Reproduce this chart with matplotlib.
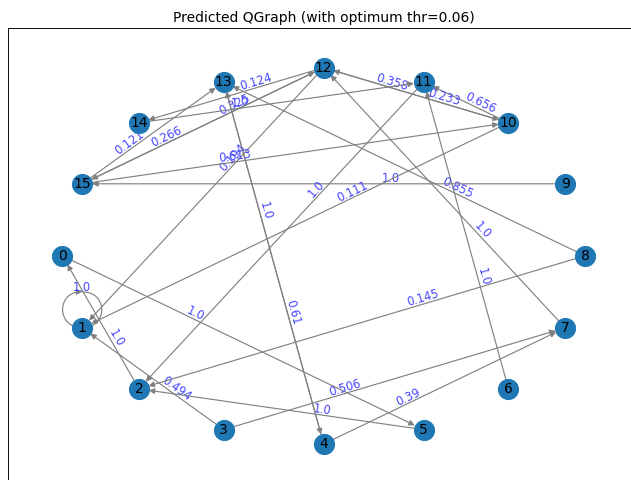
import numpy as np
import matplotlib
matplotlib.use("Agg")
import matplotlib.pyplot as plt
from matplotlib.patches import FancyArrowPatch
from matplotlib.path import Path

# Graph data
nodes = list(range(16))
edge_src = [0, 1, 2, 3, 3, 4, 4, 5, 6, 7, 8, 8, 9, 10, 10, 10, 11, 12, 12, 12, 12, 13, 14, 15, 15, 15]
edge_dst = [5, 1, 0, 1, 7, 7, 13, 2, 11, 12, 2, 13, 15, 1, 11, 12, 2, 1, 10, 14, 15, 4, 11, 10, 12, 13]
edge_lbl = ["1.0", "1.0", "1.0", "0.494", "0.506", "0.39", "0.61", "1.0", "1.0", "1.0",
            "0.145", "0.855", "1.0", "0.111", "0.656", "0.233", "1.0", "0.194", "0.358",
            "0.124", "0.325", "1.0", "1.0", "0.613", "0.266", "0.121"]
title = "Predicted QGraph (with optimum thr=0.06)"

NODE_COLOR = "#1f78b4"
EDGE_COLOR = "gray"
LABEL_COLOR = (0.27, 0.27, 1.0)
NODE_SIZE = 300
LABEL_T = 0.36      # label position measured from the tail of each edge
LABEL_LIFT = 6.0    # pixels, perpendicular lift of the edge labels

# circular layout, starting on the left and running counter-clockwise downward
n = len(nodes)
pos = {}
for k, v in enumerate(nodes):
    a = 2 * np.pi * (k - n // 2) / n
    pos[v] = np.array([np.cos(a), np.sin(a)])

DPI = 83.0
W, H = 631, 480
fig = plt.figure(figsize=((W + 0.4) / DPI, (H + 0.4) / DPI), dpi=DPI)
ax_left, ax_top, ax_w, ax_h = 7.5, 28.5, 632.0, 455.0
ax = fig.add_axes([ax_left / W, 1 - (ax_top + ax_h) / H, ax_w / W, ax_h / H])
lim = 1.21
ax.set_xlim(-lim, lim)
ax.set_ylim(-lim, lim)
ax.tick_params(axis="both", which="both", bottom=False, left=False,
               labelbottom=False, labelleft=False)

sx = ax_w / (2 * lim)   # pixels per data unit
sy = ax_h / (2 * lim)

shrink = np.sqrt(NODE_SIZE) / 2

for s, d, lbl in zip(edge_src, edge_dst, edge_lbl):
    p0 = pos[s]
    if s == d:
        # self loop drawn above the node
        h, vv = 26.0 / sx, 36.0 / sy
        x0, y0 = p0
        verts = [(x0, y0 + vv), (x0 + h, y0 + vv), (x0 + h, y0), (x0, y0),
                 (x0 - h, y0), (x0 - h, y0 + vv), (x0, y0 + vv)]
        codes = [Path.MOVETO] + [Path.CURVE4] * 6
        loop = FancyArrowPatch(path=Path(verts, codes), arrowstyle="-|>",
                               mutation_scale=10, color=EDGE_COLOR, lw=1.0, zorder=1)
        ax.add_patch(loop)
        ax.text(x0, y0 + vv + 4.5 / sy, lbl, fontsize=10, color=LABEL_COLOR,
                ha="center", va="center", zorder=1)
        continue
    p1 = pos[d]
    arr = FancyArrowPatch(tuple(p0), tuple(p1), arrowstyle="-|>", mutation_scale=10,
                          shrinkA=shrink, shrinkB=shrink, color=EDGE_COLOR, lw=1.0,
                          zorder=1)
    ax.add_patch(arr)
    # label
    lx, ly = p0 + LABEL_T * (p1 - p0)
    dx, dy = (p1[0] - p0[0]) * sx, (p1[1] - p0[1]) * sy
    ang = np.degrees(np.arctan2(dy, dx))
    if ang > 90:
        ang -= 180
    elif ang < -90:
        ang += 180
    r = np.radians(ang)
    ox, oy = -np.sin(r) * LABEL_LIFT, np.cos(r) * LABEL_LIFT
    ax.text(lx + ox / sx, ly + oy / sy, lbl, fontsize=10, color=LABEL_COLOR,
            rotation=ang, rotation_mode="anchor", ha="center", va="center", zorder=1)

xs = [pos[v][0] for v in nodes]
ys = [pos[v][1] for v in nodes]
ax.scatter(xs, ys, s=NODE_SIZE, c=NODE_COLOR, zorder=2)
for v in nodes:
    ax.text(pos[v][0], pos[v][1], str(v), fontsize=12, ha="center", va="center",
            color="k", zorder=3)

ax.set_title(title, fontsize=12)
fig.savefig("out.png", dpi=DPI)
